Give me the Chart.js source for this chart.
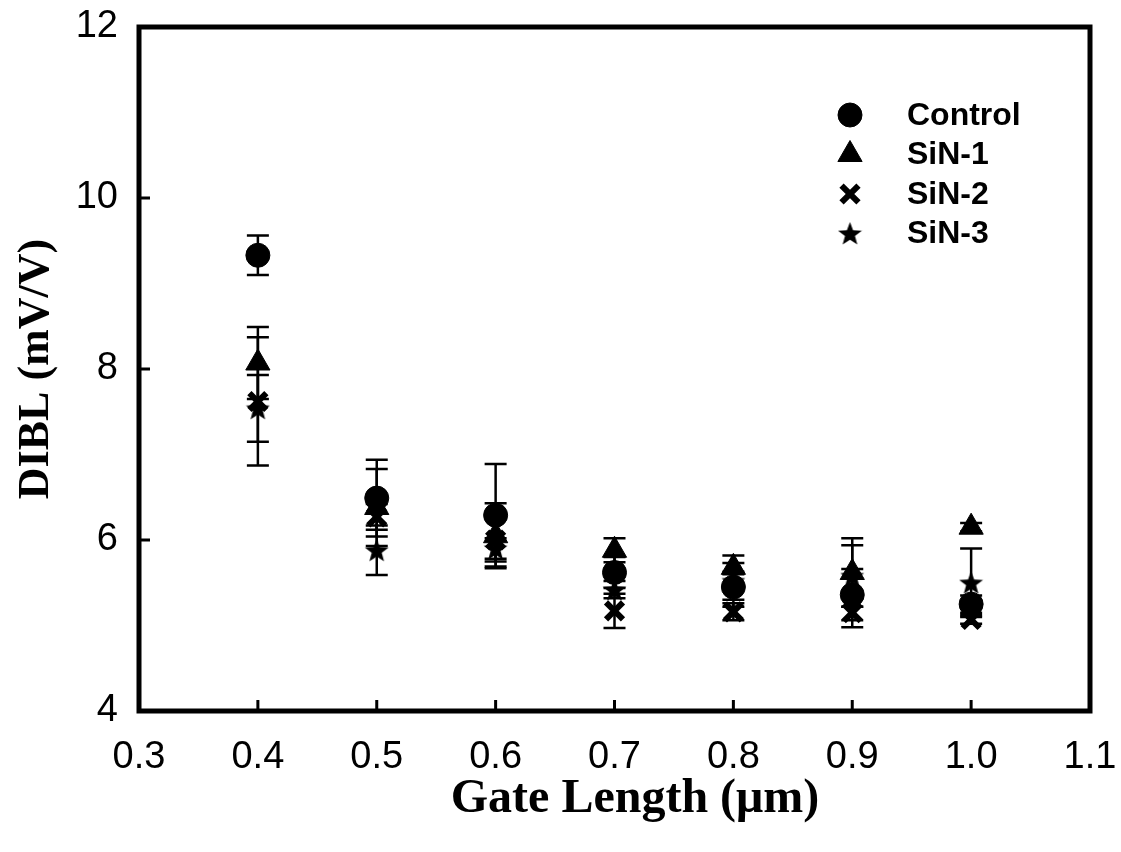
<!DOCTYPE html>
<html lang="en">
<head>
    <meta charset="UTF-8">
    <title>DIBL vs Gate Length</title>
    <style>
        body {
            margin: 0;
            background-color: #ffffff;
        }
        #wrap {
            width: 1121px;
            height: 852px;
        }
    </style>
</head>
<body>
    <div id="wrap"><canvas id="chart1" width="1121" height="852"></canvas></div>

    <script src="https://cdn.jsdelivr.net/npm/chart.js"></script>
    <script>
        // gate length (um)
        var gateLength = [0.4, 0.5, 0.6, 0.7, 0.8, 0.9, 1.0];

        // DIBL values (mV/V) and error bar half widths
        var control    = [9.33, 6.49, 6.29, 5.62, 5.45, 5.36, 5.25];
        var controlErr = [0.23, 0.45, 0.60, 0.18, 0.15, 0.30, 0.10];
        var sin1       = [8.07, 6.38, 6.05, 5.88, 5.68, 5.62, 6.15];
        var sin1Err    = [0.42, 0.45, 0.38, 0.14, 0.05, 0.40, 0.05];
        var sin2       = [7.62, 6.27, 6.00, 5.17, 5.16, 5.15, 5.07];
        var sin2Err    = [0.75, 0.15, 0.25, 0.20, 0.10, 0.17, 0.05];
        var sin3       = [7.54, 5.88, 5.90, 5.42, 5.52, 5.58, 5.50];
        var sin3Err    = [0.39, 0.29, 0.12, 0.10, 0.30, 0.36, 0.40];

        var seriesNames = ['Control', 'SiN-1', 'SiN-2', 'SiN-3'];
        var xTicks = [0.4, 0.5, 0.6, 0.7, 0.8, 0.9, 1.0];
        var yTicks = [6, 8, 10];
        var xTitle = 'Gate Length (\u03bcm)';

        // filled five point star (Chart.js 'star' is only lines)
        function makeStar(size) {
            var c = document.createElement('canvas');
            c.width = size;
            c.height = size;
            var g = c.getContext('2d');
            var cx = size / 2, cy = size / 2 + 1;
            var outer = size / 2, inner = outer * 0.42;
            g.beginPath();
            for (var i = 0; i < 10; i++) {
                var r = i % 2 === 0 ? outer : inner;
                var a = -Math.PI / 2 + i * Math.PI / 5;
                g.lineTo(cx + r * Math.cos(a), cy + r * Math.sin(a));
            }
            g.closePath();
            g.fillStyle = '#000';
            g.fill();
            return c;
        }
        var starImg = makeStar(25);

        function toPoints(ys) {
            return ys.map(function(v, i) { return { x: gateLength[i], y: v }; });
        }

        var errors = [controlErr, sin1Err, sin2Err, sin3Err];

        var errorBars = {
            id: 'errorBars',
            beforeDatasetsDraw: function(chart) {
                var ctx = chart.ctx;
                var xs = chart.scales.x, ys = chart.scales.y;
                ctx.save();
                ctx.strokeStyle = '#000';
                ctx.lineWidth = 2.5;
                chart.data.datasets.forEach(function(ds, d) {
                    ds.data.forEach(function(p, i) {
                        var e = errors[d][i];
                        var px = xs.getPixelForValue(p.x);
                        var top = ys.getPixelForValue(p.y + e);
                        var bot = ys.getPixelForValue(p.y - e);
                        ctx.beginPath();
                        ctx.moveTo(px, top); ctx.lineTo(px, bot);
                        ctx.moveTo(px - 11, top); ctx.lineTo(px + 11, top);
                        ctx.moveTo(px - 11, bot); ctx.lineTo(px + 11, bot);
                        ctx.stroke();
                    });
                });
                ctx.restore();
            }
        };

        var frame = {
            id: 'frame',
            afterDraw: function(chart) {
                var ctx = chart.ctx, a = chart.chartArea;
                var xs = chart.scales.x, ys = chart.scales.y;
                ctx.save();
                ctx.strokeStyle = '#000';
                ctx.lineWidth = 5;
                ctx.strokeRect(a.left, a.top, a.right - a.left, a.bottom - a.top);
                ctx.lineWidth = 3;
                ctx.beginPath();
                xTicks.forEach(function(t) {
                    var px = xs.getPixelForValue(t);
                    ctx.moveTo(px, a.bottom); ctx.lineTo(px, a.bottom - 11);
                });
                yTicks.forEach(function(t) {
                    var py = ys.getPixelForValue(t);
                    ctx.moveTo(a.left, py); ctx.lineTo(a.left + 11, py);
                });
                ctx.stroke();

                // x axis title (sits a bit right of the plot centre in the original)
                ctx.fillStyle = '#000';
                ctx.font = 'bold 48px "Liberation Serif", "Times New Roman", serif';
                ctx.textAlign = 'center';
                ctx.textBaseline = 'middle';
                ctx.fillText(xTitle, 635, 800);

                // legend
                var lx = 850, ly = 115, step = 39.5;
                chart.data.datasets.forEach(function(ds, d) {
                    var y = ly + d * step;
                    ctx.fillStyle = '#000';
                    ctx.strokeStyle = '#000';
                    ctx.lineWidth = ds.pointBorderWidth;
                    Chart.helpers.drawPoint(ctx, {
                        pointStyle: ds.pointStyle,
                        radius: ds.pointRadius,
                        borderWidth: ds.pointBorderWidth,
                        rotation: 0
                    }, lx, y);
                    ctx.font = 'bold 32px "Liberation Sans", Arial, sans-serif';
                    ctx.textBaseline = 'middle';
                    ctx.textAlign = 'left';
                    ctx.fillText(seriesNames[d], 907, y + 1);
                });
                ctx.restore();
            }
        };

        function makeSet(label, ys, style, radius, bw) {
            return {
                label: label,
                data: toPoints(ys),
                showLine: false,
                pointStyle: style,
                pointRadius: radius,
                pointHoverRadius: radius,
                backgroundColor: '#000',
                borderColor: '#000',
                pointBackgroundColor: '#000',
                pointBorderColor: '#000',
                pointBorderWidth: bw,
                borderWidth: bw
            };
        }

        var ctx = document.getElementById('chart1').getContext('2d');
        new Chart(ctx, {
            type: 'scatter',
            data: {
                datasets: [
                    makeSet(seriesNames[0], control, 'circle', 12, 1),
                    makeSet(seriesNames[1], sin1, 'triangle', 14, 1),
                    makeSet(seriesNames[2], sin2, 'crossRot', 12, 6),
                    makeSet(seriesNames[3], sin3, starImg, 12, 1)
                ]
            },
            options: {
                responsive: false,
                animation: false,
                layout: { padding: { top: 27, right: 31, left: 0, bottom: 0 } },
                plugins: {
                    legend: { display: false },
                    tooltip: { enabled: false }
                },
                scales: {
                    x: {
                        type: 'linear',
                        min: 0.3,
                        max: 1.1,
                        afterFit: function(s) {
                            s.height = 141;
                            s.paddingLeft = 0;
                            s.paddingRight = 0;
                        },
                        grid: { display: false },
                        border: { display: false },
                        ticks: {
                            stepSize: 0.1,
                            color: '#000',
                            padding: 16,
                            font: { family: '"Liberation Sans", Arial, sans-serif', size: 38 },
                            callback: function(v) { return v.toFixed(1); }
                        }
                    },
                    y: {
                        min: 4,
                        max: 12,
                        afterFit: function(s) {
                            s.width = 139;
                            s.paddingTop = 0;
                            s.paddingBottom = 0;
                        },
                        grid: { display: false },
                        border: { display: false },
                        ticks: {
                            stepSize: 2,
                            color: '#000',
                            padding: 13,
                            font: { family: '"Liberation Sans", Arial, sans-serif', size: 38 }
                        },
                        title: {
                            display: true,
                            text: 'DIBL (mV/V)',
                            color: '#000',
                            padding: { top: 10, bottom: 0 },
                            font: { family: '"Liberation Serif", "Times New Roman", serif', size: 44, weight: 'bold' }
                        }
                    }
                }
            },
            plugins: [errorBars, frame]
        });
    </script>
</body>
</html>
